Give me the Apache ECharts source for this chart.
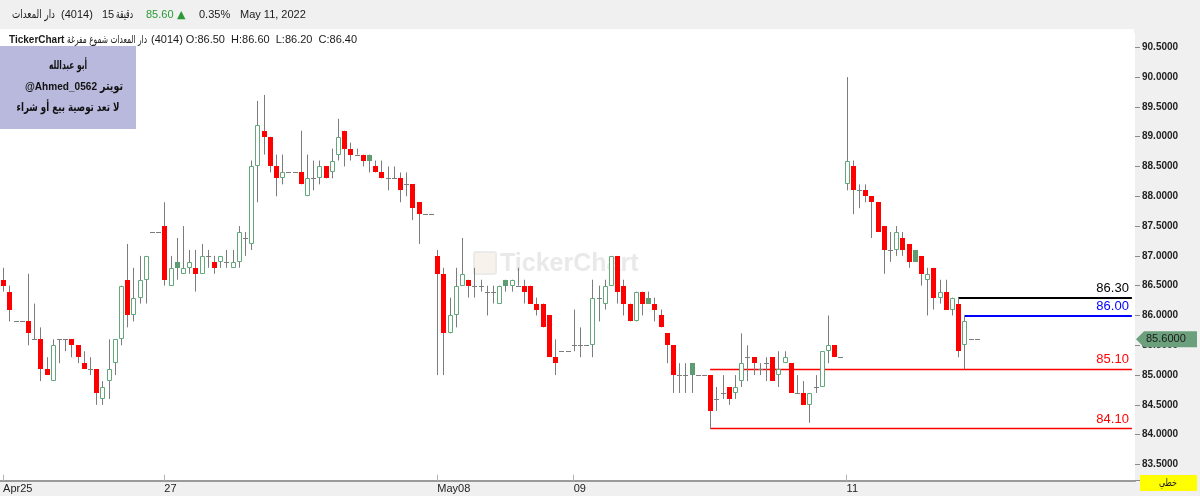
<!DOCTYPE html>
<html>
<head>
<meta charset="utf-8">
<script src="https://cdn.jsdelivr.net/npm/echarts@6/dist/echarts.min.js"></script>
<style>
html, body { margin: 0; padding: 0; background: #fff; }
#chart { width: 1200px; height: 496px; }
</style>
</head>
<body>
<div id="chart"></div>
<script>
// 15 دقيقة - دار المعدات (4014)
const open = [
  86.6, 86.4, 85.9, 85.9, 85.9, 85.6, 85.6, 85.1, 84.9, 85.6, 85.6, 85.6, 85.5, 85.2, 85.1, 85.1, 84.6, 84.9, 85.2, 85.6,
  86.6, 86.0, 86.3, 86.6, 87.4, 87.4, 87.5, 86.5, 86.9, 86.7, 86.8, 86.8, 86.7, 87.0, 86.9, 86.9, 86.9, 86.8, 86.9, 87.3,
  87.2, 88.5, 89.1, 89.0, 88.5, 88.3, 88.4, 88.4, 88.4, 88.0, 88.3, 88.3, 88.5, 88.4, 88.7, 89.1, 88.8, 88.7, 88.7, 88.7,
  88.5, 88.4, 88.3, 88.3, 88.3, 88.2, 88.2, 87.9, 87.7, 87.7, 87.0, 86.7, 85.7, 86.0, 86.5, 86.6, 86.5, 86.5, 86.4, 86.4,
  86.2, 86.6, 86.5, 86.5, 86.5, 86.5, 86.2, 86.2, 86.0, 85.3, 85.4, 85.4, 85.5, 85.5, 85.5, 85.5, 86.3, 86.2, 86.5, 87.0,
  86.5, 86.2, 85.9, 86.4, 86.3, 86.2, 86.0, 85.7, 85.5, 85.0, 85.0, 85.2, 85.0, 85.0, 85.0, 84.6, 84.7, 84.8, 84.7, 84.9,
  85.3, 85.3, 85.1, 85.2, 85.3, 85.0, 85.2, 85.2, 84.7, 84.7, 84.5, 84.8, 84.8, 85.4, 85.5, 85.3, 88.2, 88.5, 88.1, 88.1,
  88.0, 87.9, 87.5, 87.1, 87.1, 87.3, 87.2, 87.1, 87.0, 86.6, 86.8, 86.3, 86.4, 86.1, 86.2, 85.5, 85.6, 85.6
];
const close = [
  86.5, 86.1, 85.9, 85.9, 85.7, 85.6, 85.1, 85.0, 85.5, 85.6, 85.6, 85.5, 85.3, 85.1, 85.1, 84.7, 84.8, 85.1, 85.6, 86.5,
  86.0, 86.3, 86.6, 87.0, 87.4, 87.4, 86.6, 86.8, 86.8, 86.8, 86.9, 86.7, 87.0, 87.0, 86.8, 87.0, 86.9, 86.9, 87.4, 87.3,
  88.5, 89.2, 89.0, 88.5, 88.3, 88.4, 88.4, 88.4, 88.2, 88.3, 88.3, 88.5, 88.3, 88.6, 89.0, 88.8, 88.7, 88.7, 88.6, 88.6,
  88.4, 88.3, 88.3, 88.3, 88.1, 88.2, 87.8, 87.7, 87.7, 87.7, 86.7, 85.7, 86.0, 86.5, 86.7, 86.5, 86.5, 86.5, 86.4, 86.4,
  86.5, 86.5, 86.6, 86.5, 86.4, 86.2, 86.1, 85.8, 85.3, 85.2, 85.4, 85.4, 85.5, 85.5, 85.5, 86.3, 86.3, 86.5, 87.0, 86.4,
  86.2, 85.9, 86.4, 86.2, 86.2, 86.1, 85.8, 85.5, 85.0, 85.0, 85.0, 85.0, 85.0, 85.0, 84.4, 84.6, 84.7, 84.6, 84.8, 85.2,
  85.3, 85.2, 85.1, 85.2, 84.9, 85.1, 85.3, 84.7, 84.7, 84.5, 84.7, 84.8, 85.4, 85.5, 85.3, 85.3, 88.6, 88.1, 88.1, 88.0,
  87.9, 87.4, 87.1, 87.1, 87.4, 87.1, 86.9, 86.9, 86.7, 86.7, 86.3, 86.4, 86.1, 86.3, 85.4, 85.9, 85.6, 85.6
];
const low = [
  86.4, 85.9, 85.9, 85.9, 85.5, 85.6, 84.9, 85.0, 84.9, 85.2, 85.4, 85.3, 85.2, 85.1, 85.0, 84.5, 84.5, 84.6, 85.0, 85.5,
  85.8, 85.9, 86.2, 86.2, 87.4, 87.4, 86.5, 86.5, 86.6, 86.7, 86.7, 86.4, 86.7, 86.8, 86.7, 86.8, 86.8, 86.8, 86.8, 87.0,
  87.1, 87.9, 88.7, 88.4, 88.0, 88.2, 88.4, 88.4, 88.2, 88.0, 88.1, 88.2, 88.3, 88.3, 88.6, 88.5, 88.6, 88.7, 88.5, 88.4,
  88.4, 88.3, 88.1, 88.3, 87.9, 88.0, 87.6, 87.2, 87.7, 87.7, 85.0, 85.0, 85.7, 85.8, 86.5, 86.3, 86.3, 86.4, 86.0, 86.2,
  86.2, 86.4, 86.4, 86.5, 86.2, 86.2, 86.0, 85.8, 85.3, 85.0, 85.4, 85.4, 85.4, 85.3, 85.5, 85.3, 85.9, 86.1, 86.5, 86.2,
  86.0, 85.9, 85.9, 86.0, 86.2, 85.9, 85.8, 85.2, 84.7, 84.7, 84.7, 84.7, 85.0, 85.0, 84.1, 84.4, 84.6, 84.5, 84.6, 84.8,
  84.9, 85.0, 85.0, 84.9, 84.9, 84.8, 85.2, 84.7, 84.7, 84.5, 84.2, 84.7, 84.8, 85.2, 85.3, 85.3, 88.1, 87.7, 87.8, 87.9,
  87.3, 87.4, 86.7, 86.9, 87.0, 87.0, 86.8, 86.9, 86.5, 86.0, 86.1, 86.2, 86.1, 86.0, 85.3, 85.1, 85.6, 85.6
];
const high = [
  86.8, 86.5, 85.9, 85.9, 86.7, 86.2, 85.8, 85.3, 85.6, 85.6, 85.6, 85.6, 85.5, 85.4, 85.3, 85.1, 84.9, 85.6, 85.6, 86.5,
  87.2, 86.8, 87.0, 87.0, 87.4, 87.4, 87.9, 87.0, 87.3, 87.5, 87.1, 87.1, 87.2, 87.1, 87.0, 87.0, 87.1, 87.1, 87.5, 87.4,
  88.6, 89.6, 89.7, 89.0, 88.7, 88.7, 88.4, 88.4, 89.1, 88.7, 88.6, 88.6, 88.5, 88.8, 89.3, 89.1, 88.9, 88.8, 88.7, 88.7,
  88.6, 88.6, 88.5, 88.5, 88.4, 88.4, 88.2, 87.9, 87.7, 87.7, 87.1, 86.8, 86.3, 86.8, 87.3, 86.6, 86.8, 86.6, 86.5, 86.5,
  86.5, 86.6, 86.6, 86.8, 86.6, 86.5, 86.3, 86.2, 86.0, 85.6, 85.4, 85.4, 86.1, 85.8, 85.5, 86.6, 86.5, 86.6, 87.0, 87.0,
  86.6, 86.2, 86.4, 86.4, 86.4, 86.3, 86.1, 85.7, 85.5, 85.2, 85.2, 85.2, 85.0, 85.0, 85.0, 84.8, 85.0, 84.8, 85.0, 85.7,
  85.5, 85.3, 85.2, 85.3, 85.3, 85.4, 85.4, 85.2, 85.0, 84.9, 84.7, 85.0, 85.4, 86.0, 85.5, 85.3, 90.0, 88.6, 88.2, 88.2,
  88.0, 87.9, 87.5, 87.4, 87.5, 87.4, 87.2, 87.1, 87.0, 86.8, 86.8, 86.6, 86.6, 86.3, 86.3, 86.0, 85.6, 85.6
];
// down candles that closed above the previous close (drawn solid green)
const solidGreen = [28, 59, 81, 104, 111, 147];

const slotCount = 183;            // bars + empty room on the right
const dayStart = [0, 26, 70, 92, 136];
const dayLabels = ['Apr25', '27', 'May08', '09', '11'];

const levelValues = [86.30, 86.00, 85.10, 84.10];
const levelFrom = [154, 155, 114, 114];
const lastPrice = 85.60;

const categories = [];
for (let i = 0; i < slotCount; i++) categories.push(String(i));
const candles = open.map((o, i) => [i, o, close[i], low[i], high[i]]);

const RED = '#ff0000';
const GREEN = '#62a87a';
const GREEN_FILL = '#5e9c72';
const WICK = '#7c7c7c';

function renderCandle(params, api) {
  const i = api.value(0);
  const o = api.value(1), c = api.value(2), l = api.value(3), h = api.value(4);
  const x = Math.round(api.coord([i, o])[0]);
  const yo = api.coord([i, o])[1];
  const yc = api.coord([i, c])[1];
  const yl = api.coord([i, l])[1];
  const yh = api.coord([i, h])[1];
  const kids = [];
  if (yl - yh > 0.5) {
    kids.push({ type: 'line', shape: { x1: x + 0.5, y1: yh, x2: x + 0.5, y2: yl },
      style: { stroke: WICK, lineWidth: 1 } });
  }
  if (Math.abs(o - c) < 1e-9) {
    const y = Math.round(yo) + 0.5;
    kids.push({ type: 'line', shape: { x1: x - 2, y1: y, x2: x + 3, y2: y },
      style: { stroke: WICK, lineWidth: 1 } });
  } else if (c > o) {
    const top = Math.round(yc) + 0.5, bot = Math.round(yo) - 0.5;
    kids.push({ type: 'rect', shape: { x: x - 1.5, y: top, width: 4, height: Math.max(bot - top, 1) },
      style: { fill: '#fff', stroke: GREEN, lineWidth: 1 } });
  } else {
    const top = Math.round(yo), bot = Math.round(yc);
    kids.push({ type: 'rect', shape: { x: x - 2, y: top, width: 5, height: Math.max(bot - top, 2) },
      style: { fill: solidGreen.includes(i) ? GREEN_FILL : RED } });
  }
  return { type: 'group', children: kids };
}

const levelColors = ['#000000', '#0000ff', '#ff0000', '#ff0000'];
const levelWidths = [2, 2, 1.3, 1.3];

const chart = echarts.init(document.getElementById('chart'));

const SANS = '"Liberation Sans", "DejaVu Sans", sans-serif';
const headerText = (x, y, text, extra) => ({
  type: 'text', z: 50, silent: true,
  style: Object.assign({ x: x, y: y, text: text, fill: '#1a1a1a', font: '11px ' + SANS, textVerticalAlign: 'middle' }, extra || {})
});

// Arabic glyphs of the fallback font are wide: squeeze a text into the width it takes in the picture
const measureCtx = document.createElement('canvas').getContext('2d');
function fitText(x, y, text, font, width, align, fill) {
  measureCtx.font = font;
  const w = measureCtx.measureText(text).width || width;
  return {
    type: 'text', z: 50, silent: true, x: x, y: y, scaleX: Math.min(1, width / w),
    style: { x: 0, y: 0, text: text, font: font, fill: fill || '#1a1a1a', textAlign: align, textVerticalAlign: 'middle' }
  };
}
const AR = '"DejaVu Sans", sans-serif';

chart.setOption({
  animation: false,
  backgroundColor: '#ffffff',
  grid: { left: 0, right: 65, top: 30, bottom: 15.3 },
  xAxis: {
    type: 'category',
    data: categories,
    boundaryGap: true,
    axisLine: { show: true, lineStyle: { color: '#9a9a9a', width: 2 } },
    axisTick: {
      show: true, inside: true, length: 6, alignWithLabel: true,
      interval: (idx) => dayStart.includes(idx),
      lineStyle: { color: '#b4b4b4' }
    },
    axisLabel: {
      interval: (idx) => dayStart.includes(idx),
      formatter: (v, idx) => dayLabels[dayStart.indexOf(idx)] || '',
      align: 'left', margin: 3,
      color: '#222', fontSize: 11, fontFamily: 'Liberation Sans'
    },
    splitLine: { show: false }
  },
  yAxis: {
    type: 'value',
    position: 'right',
    min: 83.228, max: 90.79,
    minInterval: 0.5, maxInterval: 0.5, splitNumber: 15,
    scale: true,
    splitLine: { show: false },
    axisLine: { show: false },
    axisTick: { show: true, length: 5, lineStyle: { color: '#8a8a8a' } },
    axisLabel: {
      margin: 7,
      formatter: (v) => Math.abs(v * 2 - Math.round(v * 2)) < 1e-6 ? v.toFixed(4) : '',
      color: '#222', fontSize: 10, fontWeight: 'bold', fontFamily: 'Liberation Sans'
    }
  },
  series: [
    {
      type: 'custom',
      name: 'candles',
      renderItem: renderCandle,
      data: candles,
      encode: { x: 0, y: [1, 2, 3, 4] },
      clip: true,
      z: 5
    },
    {
      type: 'line',
      data: close,
      symbol: 'none',
      silent: true,
      lineStyle: { opacity: 0 },
      z: 6,
      markLine: {
        silent: true,
        symbol: ['none', 'none'],
        animation: false,
        data: levelValues.map((v, j) => [
          {
            coord: [levelFrom[j], v],
            lineStyle: { color: levelColors[j], width: levelWidths[j], type: 'solid', opacity: 1 },
            label: {
              show: true, position: 'insideEndTop', distance: 3,
              formatter: v.toFixed(2), color: levelColors[j],
              fontSize: 13, fontFamily: 'Liberation Sans'
            }
          },
          { coord: [slotCount - 1, v] }
        ])
      }
    }
  ],
  graphic: [
    // header band, right axis column, bottom band
    { type: 'rect', z: -1, silent: true, shape: { x: 0, y: 0, width: 1200, height: 29 }, style: { fill: '#f0f0f0' } },
    { type: 'rect', z: -1, silent: true, shape: { x: 1135, y: 29, width: 65, height: 467 }, style: { fill: '#f0f0f0' } },
    { type: 'rect', z: -1, silent: true, shape: { x: 0, y: 481, width: 1135, height: 15 }, style: { fill: '#f0f0f0' } },
    { type: 'rect', z: 100, silent: true, shape: { x: 1134, y: 27, width: 9, height: 6 }, style: { fill: '#f0f0f0' } },
    // watermark
    { type: 'rect', z: -1, silent: true, shape: { x: 474, y: 252, width: 22, height: 22, r: 2 }, style: { fill: '#f7f3ec', stroke: '#ebebeb', lineWidth: 2 } },
    { type: 'text', z: -1, silent: true, style: { x: 500, y: 264, text: 'TickerChart', fill: '#e9e9e9', font: 'bold 25px ' + SANS, textVerticalAlign: 'middle' } },
    // header line 1
    fitText(55, 15, 'دار المعدات', '12px ' + AR, 43, 'right'),
    headerText(61, 15, '(4014)'),
    headerText(102, 15, '15'),
    fitText(133, 15, 'دقيقة', '12px ' + AR, 17, 'right'),
    headerText(146, 15, '85.60', { fill: '#2a9a35' }),
    headerText(177, 15, '▲', { fill: '#2a9a35', font: '11px "DejaVu Sans", sans-serif' }),
    headerText(199, 15, '0.35%'),
    headerText(240, 15, 'May 11, 2022'),
    // header line 2
    headerText(9, 40, 'TickerChart', { font: 'bold 10px ' + SANS }),
    fitText(147, 40, 'دار المعدات شموع مفرغة', '11px ' + AR, 80, 'right'),
    headerText(151, 40, '(4014) O:86.50  H:86.60  L:86.20  C:86.40', { font: '11px ' + SANS }),
    // note box
    { type: 'rect', z: 40, silent: true, shape: { x: 0, y: 46, width: 136, height: 83 }, style: { fill: '#b9b9dd' } },
    fitText(68, 66, 'أبو عبدالله', 'bold 12px ' + AR, 38, 'center', '#111'),
    fitText(97, 87, '\u200E@Ahmed_0562', 'bold 11px ' + SANS, 72, 'right', '#111'),
    fitText(100, 87, 'تويتر', 'bold 12px ' + AR, 23, 'left', '#111'),
    fitText(68, 108, 'لا تعد توصية بيع أو شراء', 'bold 12px ' + AR, 103, 'center', '#111'),
    // chart type box
    { type: 'rect', z: 40, silent: true, shape: { x: 1140, y: 475, width: 57, height: 16 }, style: { fill: '#ffff00' } },
    fitText(1168, 483, 'خطي', '10px ' + AR, 18, 'center', '#222')
  ]
});

// last price tag on the price axis
const py = chart.convertToPixel({ yAxisIndex: 0 }, lastPrice);
chart.setOption({
  graphic: [
    {
      id: 'priceTag', type: 'polygon', z: 60, silent: true,
      shape: { points: [[1136, py], [1144, py - 8], [1197, py - 8], [1197, py + 8], [1144, py + 8]] },
      style: { fill: '#6c9f7c' }
    },
    {
      id: 'priceTagText', type: 'text', z: 61, silent: true,
      style: { x: 1146, y: py, text: lastPrice.toFixed(4), fill: '#1a1a1a', font: '11px ' + SANS, textVerticalAlign: 'middle' }
    }
  ]
});
</script>
</body>
</html>
